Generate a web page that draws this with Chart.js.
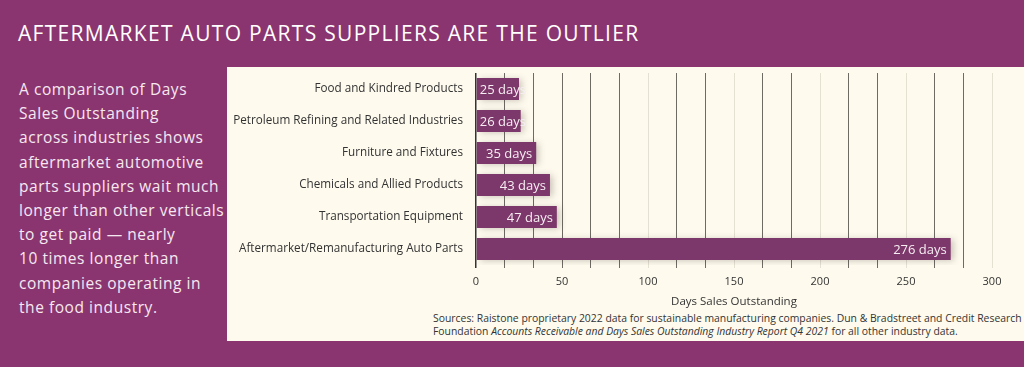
<!DOCTYPE html>
<html>
<head>
<meta charset="utf-8">
<script src="https://cdn.jsdelivr.net/npm/chart.js@4"></script>
<style>
  html, body { margin: 0; padding: 0; }
  body { width: 1024px; height: 367px; background: #8a356f; position: relative; overflow: hidden; font-family: "Open Sans", sans-serif; }
  #title { position: absolute; left: 18px; top: 18px; color: #ffffff; font-size: 21px; font-weight: 400; letter-spacing: 1.3px; white-space: nowrap; line-height: 30px; }
  #intro { position: absolute; left: 19px; top: 77px; color: #f6e8f1; font-size: 15.5px; line-height: 24.2px; letter-spacing: 0.55px; white-space: nowrap; }
  #panel { position: absolute; left: 227px; top: 67px; width: 797px; height: 274px; background: #fefbee; }
  #chartBox { position: absolute; left: 0; top: -14.5px; width: 797px; height: 256px; }
  #sources { position: absolute; left: 206px; top: 245px; color: #333; font-size: 10.4px; line-height: 13px; white-space: nowrap; }
</style>
</head>
<body>
<div id="title">AFTERMARKET AUTO PARTS SUPPLIERS ARE THE OUTLIER</div>
<div id="intro">A comparison of Days<br>Sales Outstanding<br>across industries shows<br>aftermarket automotive<br>parts suppliers wait much<br>longer than other verticals<br>to get paid — nearly<br>10 times longer than<br>companies operating in<br>the food industry.</div>
<div id="panel">
  <div id="chartBox"><canvas id="c"></canvas></div>
  <div id="sources">Sources: Raistone proprietary 2022 data for sustainable manufacturing companies. Dun &amp; Bradstreet and Credit Research<br>Foundation <i>Accounts Receivable and Days Sales Outstanding Industry Report Q4 2021</i> for all other industry data.</div>
</div>
<script>
const categories = [
  "Food and Kindred Products",
  "Petroleum Refining and Related Industries",
  "Furniture and Fixtures",
  "Chemicals and Allied Products",
  "Transportation Equipment",
  "Aftermarket/Remanufacturing Auto Parts"
];
const daysOutstanding = [25, 26, 35, 43, 47, 276];
const valueLabels = ["25 days", "26 days", "35 days", "43 days", "47 days", "276 days"];
const xLabelTicks = [0, 50, 100, 150, 200, 250, 300];
const gridStep = 50 / 3;
const xMax = 300;
const axisTitle = "Days Sales Outstanding";

const barColor = "#7d386b";

const gridValues = [];
for (let i = 0; i * gridStep <= xMax + 1e-6; i++) gridValues.push(+(i * gridStep).toFixed(6));

function isLabelTick(v) {
  return xLabelTicks.some(t => Math.abs(t - v) < 1e-4);
}

const shadowPlugin = {
  id: 'barShadow',
  beforeDatasetsDraw(chart) {
    const ctx = chart.ctx;
    ctx.save();
    ctx.shadowColor = 'rgba(60,40,40,0.28)';
    ctx.shadowBlur = 7;
    ctx.shadowOffsetX = 3;
    ctx.shadowOffsetY = 1;
  },
  afterDatasetsDraw(chart) {
    chart.ctx.restore();
    const ctx = chart.ctx;
    const meta = chart.getDatasetMeta(0);
    ctx.save();
    ctx.font = '13px "Open Sans", sans-serif';
    ctx.fillStyle = '#f7eef3';
    ctx.textBaseline = 'middle';
    ctx.textAlign = 'left';
    meta.data.forEach((bar, i) => {
      const txt = valueLabels[i];
      const w = ctx.measureText(txt).width;
      let x = bar.x - 4 - w;
      if (x < bar.base + 3) x = bar.base + 3;
      ctx.fillText(txt, x, bar.y + 1);
    });
    ctx.restore();
  }
};

new Chart(document.getElementById('c'), {
  type: 'bar',
  data: {
    labels: categories,
    datasets: [{
      data: daysOutstanding,
      backgroundColor: barColor,
      borderWidth: 0,
      barPercentage: 0.9,
      categoryPercentage: 0.77
    }]
  },
  plugins: [shadowPlugin],
  options: {
    indexAxis: 'y',
    responsive: true,
    maintainAspectRatio: false,
    animation: false,
    layout: { padding: { top: 5.5, right: 32, left: 0, bottom: 0 } },
    plugins: { legend: { display: false }, tooltip: { enabled: false } },
    scales: {
      x: {
        type: 'linear',
        min: 0,
        max: xMax,
        afterBuildTicks: (scale) => { scale.ticks = gridValues.map(v => ({ value: v })); },
        ticks: {
          autoSkip: false,
          maxRotation: 0,
          padding: 7,
          color: '#333',
          font: { family: '"Open Sans", sans-serif', size: 11 },
          callback: (v) => isLabelTick(v) ? String(Math.round(v)) : ''
        },
        grid: {
          drawOnChartArea: true,
          tickLength: 3,
          color: (ctx) => {
            const v = ctx.tick ? ctx.tick.value : 0;
            if (v < 1e-6) return '#333';
            if (isLabelTick(v) && v > 60) return '#e4e0d2';
            return '#6e6a64';
          },
          lineWidth: (ctx) => (ctx.tick && ctx.tick.value < 1e-6) ? 1.5 : 1
        },
        border: { display: false },
        title: {
          display: true,
          text: axisTitle,
          color: '#333',
          font: { family: '"Open Sans", sans-serif', size: 11.5 },
          padding: { top: 0, bottom: 0 }
        }
      },
      y: {
        afterFit: (scale) => { scale.width = 249; },
        grid: { display: false, drawTicks: false },
        border: { display: false },
        ticks: {
          padding: 13,
          color: '#333',
          font: { family: '"Open Sans", sans-serif', size: 11.7 }
        }
      }
    }
  }
});
</script>
</body>
</html>
